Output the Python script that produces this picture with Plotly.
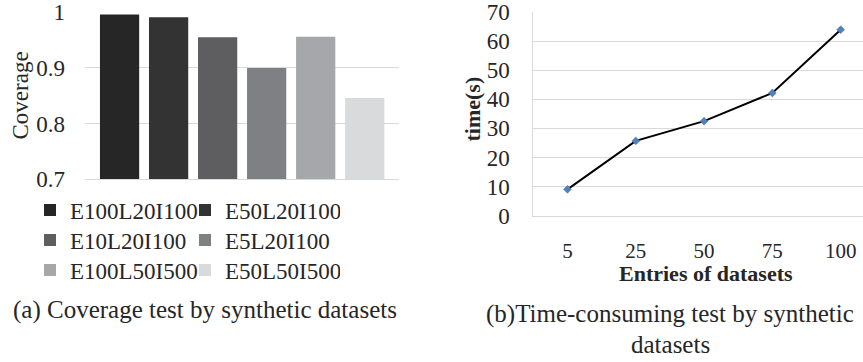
import plotly.graph_objects as go

# ---- data: (a) coverage bars ----
cov_names = ["E100L20I100", "E50L20I100", "E10L20I100", "E5L20I100", "E100L50I500", "E50L50I500"]
cov_values = [0.996, 0.991, 0.955, 0.900, 0.956, 0.846]
cov_colors = ["#262626", "#333333", "#5e5e60", "#7f8083", "#a6a7aa", "#d9dadc"]
cov_ticks = [0.7, 0.8, 0.9, 1.0]
cov_ticktext = ["0.7", "0.8", "0.9", "1"]

# ---- data: (b) time line ----
entries = ["5", "25", "50", "75", "100"]
times = [9.0, 25.7, 32.5, 42.2, 64.0]
time_ticks = [0, 10, 20, 30, 40, 50, 60, 70]

W, H = 863, 362
SERIF = "Liberation Serif"
GRID = "#d9d9d9"
TXT = "#262626"

fig = go.Figure()

legend_ids = ["legend", "legend", "legend2", "legend2", "legend3", "legend3"]
for name, val, col, lg in zip(cov_names, cov_values, cov_colors, legend_ids):
    fig.add_trace(go.Bar(x=["Coverage"], y=[val], name=name, marker=dict(color=col, line=dict(width=0)),
                         xaxis="x", yaxis="y", legend=lg))

fig.add_trace(go.Scatter(x=entries, y=times, mode="lines+markers", showlegend=False,
                         line=dict(color="#000000", width=2),
                         marker=dict(symbol="diamond", size=6, color="#4f81bd",
                                     line=dict(color="#3a6aa5", width=0.5)),
                         xaxis="x2", yaxis="y2"))

def px_x(p):
    return p / W

def px_y(p):
    return 1 - p / H

legend_common = dict(orientation="h", xanchor="left", yanchor="middle", entrywidth=110,
                     entrywidthmode="pixels", font=dict(family=SERIF, size=23, color=TXT),
                     bgcolor="rgba(0,0,0,0)", itemclick=False, tracegroupgap=0)

fig.update_layout(
    width=W, height=H,
    margin=dict(l=0, r=0, t=0, b=0, autoexpand=False),
    paper_bgcolor="white", plot_bgcolor="white",
    barmode="group", bargap=0.064, bargroupgap=0.2,
    hovermode=False,
    xaxis=dict(domain=[px_x(85), px_x(399.3)], showticklabels=False, showgrid=False,
               showline=True, linecolor=GRID, linewidth=1, ticks="", fixedrange=True),
    yaxis=dict(domain=[px_y(179.3), px_y(12.3)], range=[0.7, 1.0], tickvals=cov_ticks,
               ticktext=cov_ticktext, showgrid=True, gridcolor=GRID, gridwidth=1,
               showline=False, zeroline=False, ticks="", ticklabelstandoff=19,
               ticklabeloverflow="allow",
               tickfont=dict(family=SERIF, size=23, color=TXT)),
    xaxis2=dict(domain=[px_x(533.3), 1.0], type="category", range=[-0.5, 4.327],
                showgrid=False, showline=True, linecolor=GRID, linewidth=1, ticks="",
                ticklabelstandoff=16, ticklabeloverflow="allow",
                tickfont=dict(family=SERIF, size=21, color=TXT), anchor="y2"),
    yaxis2=dict(domain=[px_y(215.5), px_y(12.3)], range=[0, 70], tickvals=time_ticks,
                showgrid=True, gridcolor=GRID, gridwidth=1, showline=True, linecolor=GRID,
                linewidth=1, zeroline=False, ticks="", ticklabelstandoff=18,
                ticklabeloverflow="allow",
                tickfont=dict(family=SERIF, size=23, color=TXT), anchor="x2"),
    legend=dict(x=px_x(30), y=px_y(210), **legend_common),
    legend2=dict(x=px_x(30), y=px_y(240), **legend_common),
    legend3=dict(x=px_x(30), y=px_y(270), **legend_common),
    showlegend=True,
)

annotations = [
    dict(text="Coverage", x=px_x(19.5), y=px_y(96), textangle=-90,
         font=dict(family=SERIF, size=23, color=TXT)),
    dict(text="<b>time(s)</b>", x=px_x(471.5), y=px_y(109), textangle=-90,
         font=dict(family=SERIF, size=22, color=TXT)),
    dict(text="<b>Entries of datasets</b>", x=px_x(706), y=px_y(273),
         font=dict(family=SERIF, size=22, color=TXT)),
    dict(text="(a) Coverage test by synthetic datasets", x=px_x(205), y=px_y(310),
         font=dict(family=SERIF, size=25, color=TXT)),
    dict(text="(b)Time-consuming test by synthetic", x=px_x(670), y=px_y(314),
         font=dict(family=SERIF, size=25, color=TXT)),
    dict(text="datasets", x=px_x(670), y=px_y(344),
         font=dict(family=SERIF, size=25, color=TXT)),
]
for a in annotations:
    a.update(xref="paper", yref="paper", showarrow=False, xanchor="center", yanchor="middle")
fig.update_layout(annotations=annotations)

fig.write_html("out.html", config={"displayModeBar": False, "staticPlot": True},
               post_script="document.body.style.margin='0';document.body.style.overflow='hidden';")
